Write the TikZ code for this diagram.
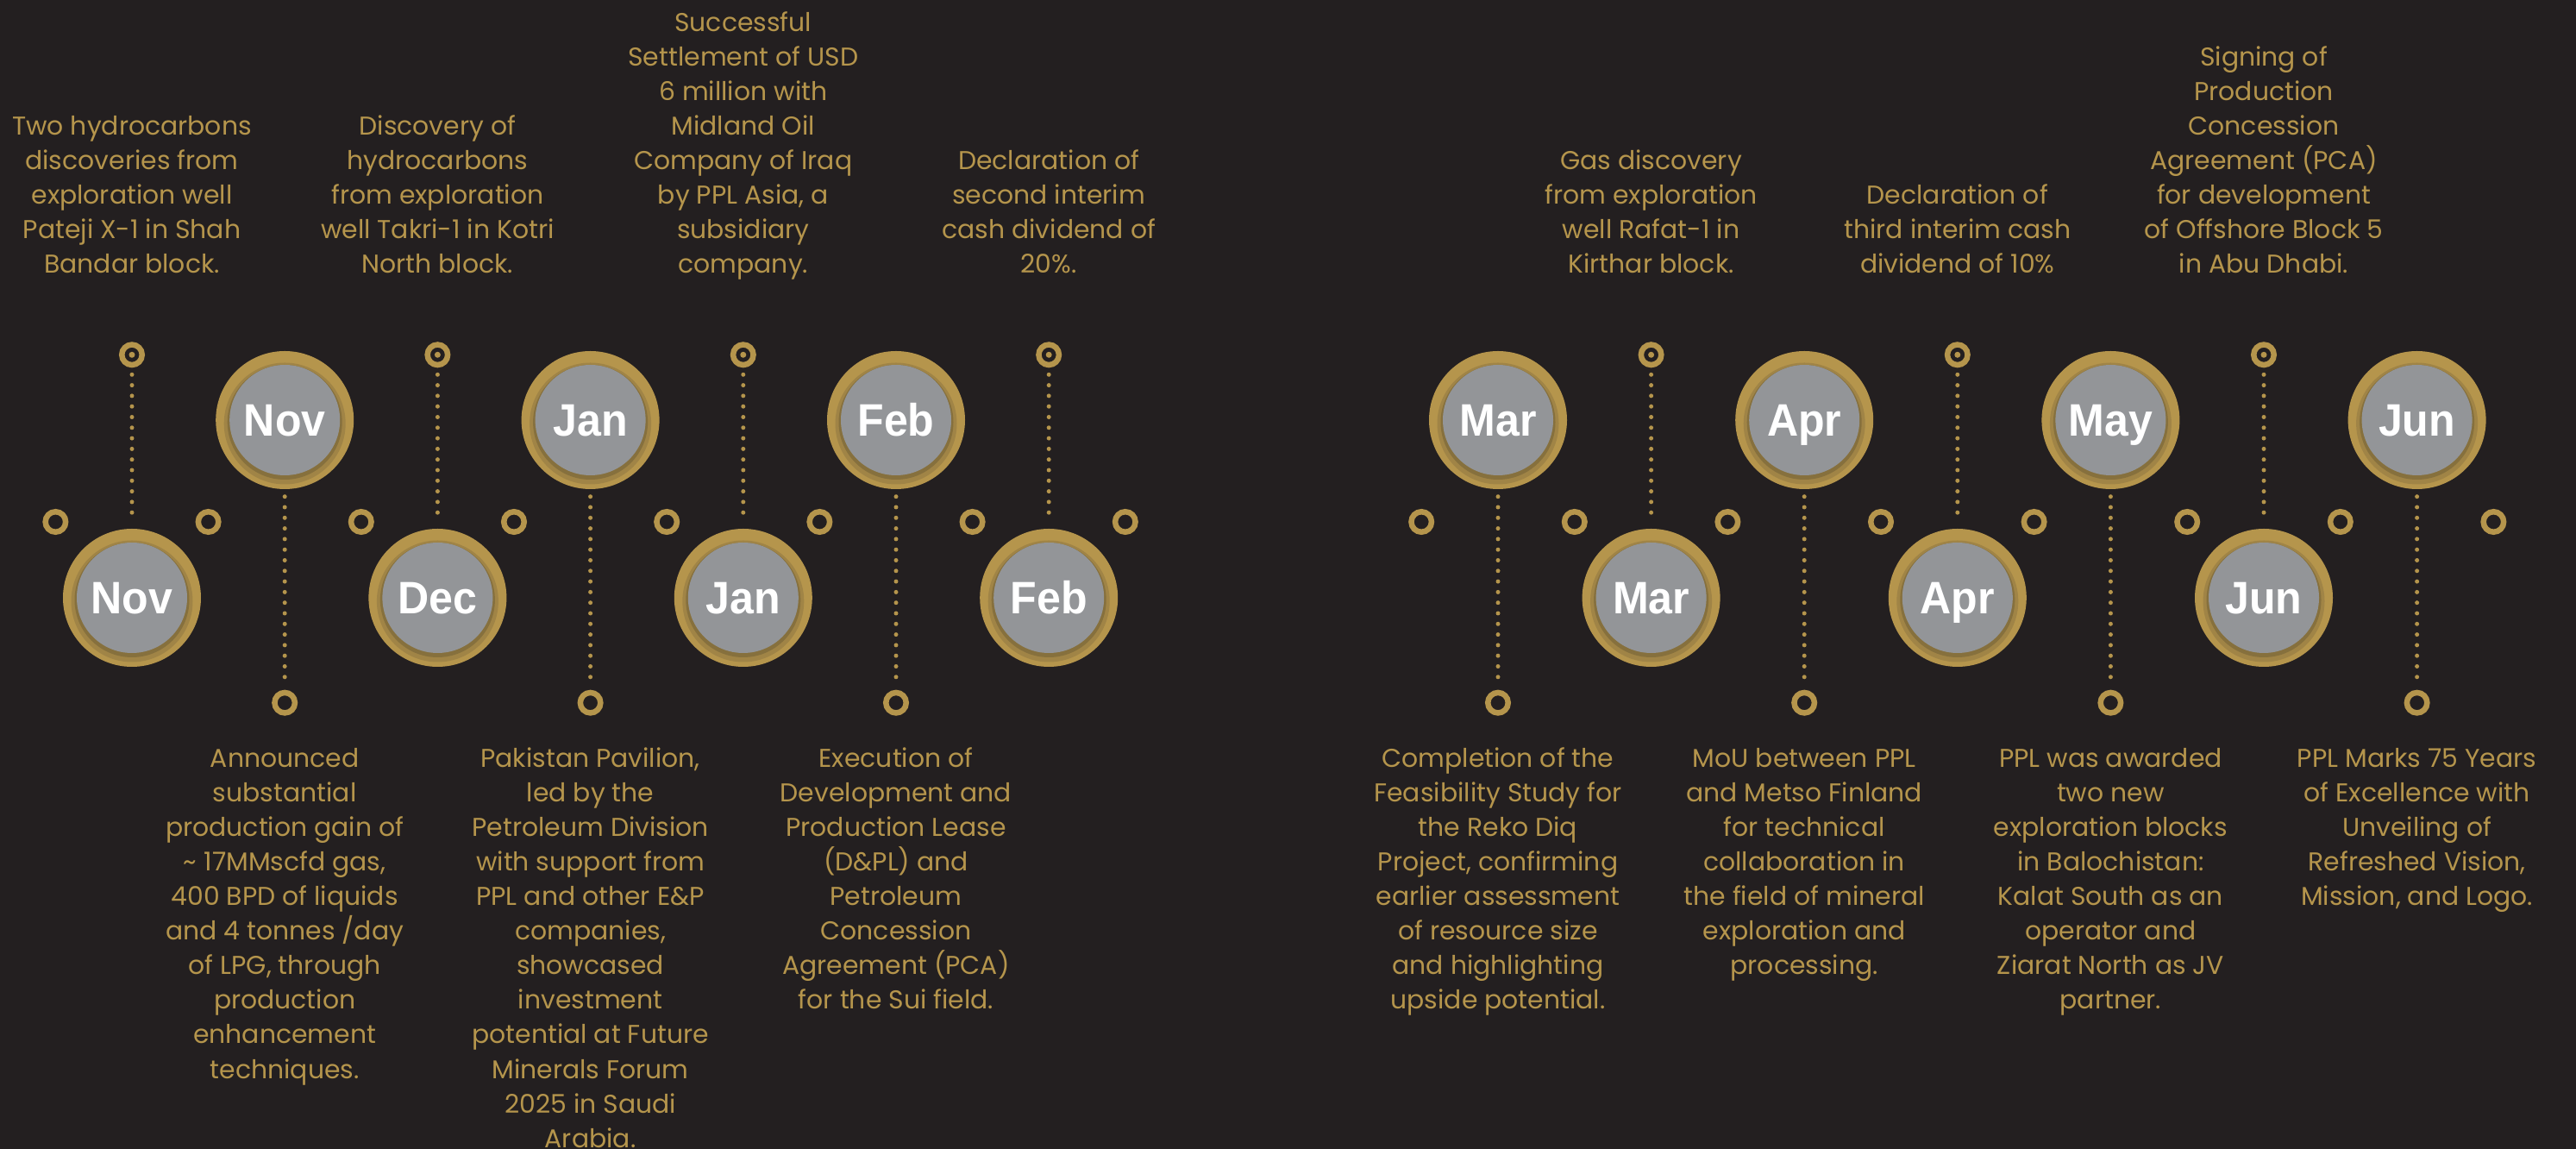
\documentclass[tikz,border=0pt]{standalone}
\usepackage{fontspec}
\setmainfont{Poppins}
\newfontfamily\monthfont[FakeStretch=0.95]{Liberation Sans}
\usepackage{xcolor}
\usepackage{tikz}
\usetikzlibrary{shapes,positioning}

\definecolor{pagebg}{HTML}{231F20}
\definecolor{gold}{HTML}{B5954C}
\definecolor{goldshade}{HTML}{A08446}
\definecolor{golddark}{HTML}{86703D}
\definecolor{discgray}{HTML}{939598}

\begin{document}
\begin{tikzpicture}[
  month/.style={circle, minimum size=1.6cm, inner sep=0pt, fill=gold,
    path picture={
      \fill[goldshade] ([yshift=-0.04cm]path picture bounding box.center) circle (0.705);
      \fill[golddark] ([yshift=-0.025cm]path picture bounding box.center) circle (0.665);
      \fill[discgray] (path picture bounding box.center) circle (0.64);},
    text=white, text height=0.38cm, text depth=0pt, font=\monthfont\bfseries\fontsize{15}{15}\selectfont},
  ring/.style={circle, draw=gold, line width=0.065cm, minimum size=0.235cm, inner sep=0pt},
  dotring/.style={ring, path picture={\fill[gold] (path picture bounding box.center) circle (0.035);}},
  note/.style={align=center, text=gold, inner sep=0pt, font=\fontsize{8.5}{11.4}\selectfont},
  dotline/.style={draw=gold, line width=0.05cm, line cap=round, dash pattern=on 0pt off 0.123cm, shorten <=0.08cm, shorten >=0.08cm}]

  \useasboundingbox (0,0) rectangle (29.87,-13.32);
  \fill [pagebg] (0,0) rectangle (29.87,-13.32);

  % left group
  \node [month] (m0) at (1.53,-6.93) {Nov};
  \node [month] (m1) at (3.302,-4.87) {Nov};
  \node [month] (m2) at (5.074,-6.93) {Dec};
  \node [month] (m3) at (6.846,-4.87) {Jan};
  \node [month] (m4) at (8.618,-6.93) {Jan};
  \node [month] (m5) at (10.39,-4.87) {Feb};
  \node [month] (m6) at (12.162,-6.93) {Feb};

  % right group
  \node [month] (m7) at (17.37,-4.87) {Mar};
  \node [month] (m8) at (19.146,-6.93) {Mar};
  \node [month] (m9) at (20.922,-4.87) {Apr};
  \node [month] (m10) at (22.698,-6.93) {Apr};
  \node [month] (m11) at (24.474,-4.87) {May};
  \node [month] (m12) at (26.25,-6.93) {Jun};
  \node [month] (m13) at (28.026,-4.87) {Jun};

  % end rings
  \node [dotring, above=1.86cm of m0] (t0) {};
  \node [ring, below=2.32cm of m1] (b1) {};
  \node [dotring, above=1.86cm of m2] (t2) {};
  \node [ring, below=2.32cm of m3] (b3) {};
  \node [dotring, above=1.86cm of m4] (t4) {};
  \node [ring, below=2.32cm of m5] (b5) {};
  \node [dotring, above=1.86cm of m6] (t6) {};
  \node [ring, below=2.32cm of m7] (b7) {};
  \node [dotring, above=1.86cm of m8] (t8) {};
  \node [ring, below=2.32cm of m9] (b9) {};
  \node [dotring, above=1.86cm of m10] (t10) {};
  \node [ring, below=2.32cm of m11] (b11) {};
  \node [dotring, above=1.86cm of m12] (t12) {};
  \node [ring, below=2.32cm of m13] (b13) {};

  % side rings
  \node [ring] (s0) at (0.644,-6.05) {};
  \node [ring] (s1) at (2.416,-6.05) {};
  \node [ring] (s2) at (4.188,-6.05) {};
  \node [ring] (s3) at (5.96,-6.05) {};
  \node [ring] (s4) at (7.732,-6.05) {};
  \node [ring] (s5) at (9.504,-6.05) {};
  \node [ring] (s6) at (11.276,-6.05) {};
  \node [ring] (s7) at (13.048,-6.05) {};
  \node [ring] (s8) at (16.482,-6.05) {};
  \node [ring] (s9) at (18.258,-6.05) {};
  \node [ring] (s10) at (20.034,-6.05) {};
  \node [ring] (s11) at (21.81,-6.05) {};
  \node [ring] (s12) at (23.586,-6.05) {};
  \node [ring] (s13) at (25.362,-6.05) {};
  \node [ring] (s14) at (27.138,-6.05) {};
  \node [ring] (s15) at (28.914,-6.05) {};

  % texts
  \node [note, above=0.67cm of t0] (n0) {\strut Two hydrocarbons\\discoveries from\\exploration well\\Pateji X-1 in Shah\\Bandar block.\strut};
  \node [note, below=0.31cm of b1] (n1) {\strut Announced\\substantial\\production gain of\\\textasciitilde\ 17MMscfd gas,\\400 BPD of liquids\\and 4 tonnes /day\\of LPG, through\\production\\enhancement\\techniques.\strut};
  \node [note, above=0.67cm of t2] (n2) {\strut Discovery of\\hydrocarbons\\from exploration\\well Takri-1 in Kotri\\North block.\strut};
  \node [note, below=0.31cm of b3] (n3) {\strut Pakistan Pavilion,\\led by the\\Petroleum Division\\with support from\\PPL and other E\&P\\companies,\\showcased\\investment\\potential at Future\\Minerals Forum\\2025 in Saudi\\Arabia.\strut};
  \node [note, above=0.67cm of t4] (n4) {\strut Successful\\Settlement of USD\\6 million with\\Midland Oil\\Company of Iraq\\by PPL Asia, a\\subsidiary\\company.\strut};
  \node [note, below=0.31cm of b5] (n5) {\strut Execution of\\Development and\\Production Lease\\(D\&PL) and\\Petroleum\\Concession\\Agreement (PCA)\\for the Sui field.\strut};
  \node [note, above=0.67cm of t6] (n6) {\strut Declaration of\\second interim\\cash dividend of\\20\%.\strut};
  \node [note, below=0.31cm of b7] (n7) {\strut Completion of the\\Feasibility Study for\\the Reko Diq\\Project, confirming\\earlier assessment\\of resource size\\and highlighting\\upside potential.\strut};
  \node [note, above=0.67cm of t8] (n8) {\strut Gas discovery\\from exploration\\well Rafat-1 in\\Kirthar block.\strut};
  \node [note, below=0.31cm of b9] (n9) {\strut MoU between PPL\\and Metso Finland\\for technical\\collaboration in\\the field of mineral\\exploration and\\processing.\strut};
  \node [note, above=0.67cm of t10] (n10) {\strut Declaration of\\third interim cash\\dividend of 10\%\strut};
  \node [note, below=0.31cm of b11] (n11) {\strut PPL was awarded\\two new\\exploration blocks\\in Balochistan:\\Kalat South as an\\operator and\\Ziarat North as JV\\partner.\strut};
  \node [note, above=0.67cm of t12] (n12) {\strut Signing of\\Production\\Concession\\Agreement (PCA)\\for development\\of Offshore Block 5\\in Abu Dhabi.\strut};
  \node [note, below=0.31cm of b13] (n13) {\strut PPL Marks 75 Years\\of Excellence with\\Unveiling of\\Refreshed Vision,\\Mission, and Logo.\strut};

  \draw [dotline] (t0) -- (m0);
  \draw [dotline] (m1) -- (b1);
  \draw [dotline] (t2) -- (m2);
  \draw [dotline] (m3) -- (b3);
  \draw [dotline] (t4) -- (m4);
  \draw [dotline] (m5) -- (b5);
  \draw [dotline] (t6) -- (m6);
  \draw [dotline] (m7) -- (b7);
  \draw [dotline] (t8) -- (m8);
  \draw [dotline] (m9) -- (b9);
  \draw [dotline] (t10) -- (m10);
  \draw [dotline] (m11) -- (b11);
  \draw [dotline] (t12) -- (m12);
  \draw [dotline] (m13) -- (b13);
\end{tikzpicture}
\end{document}
